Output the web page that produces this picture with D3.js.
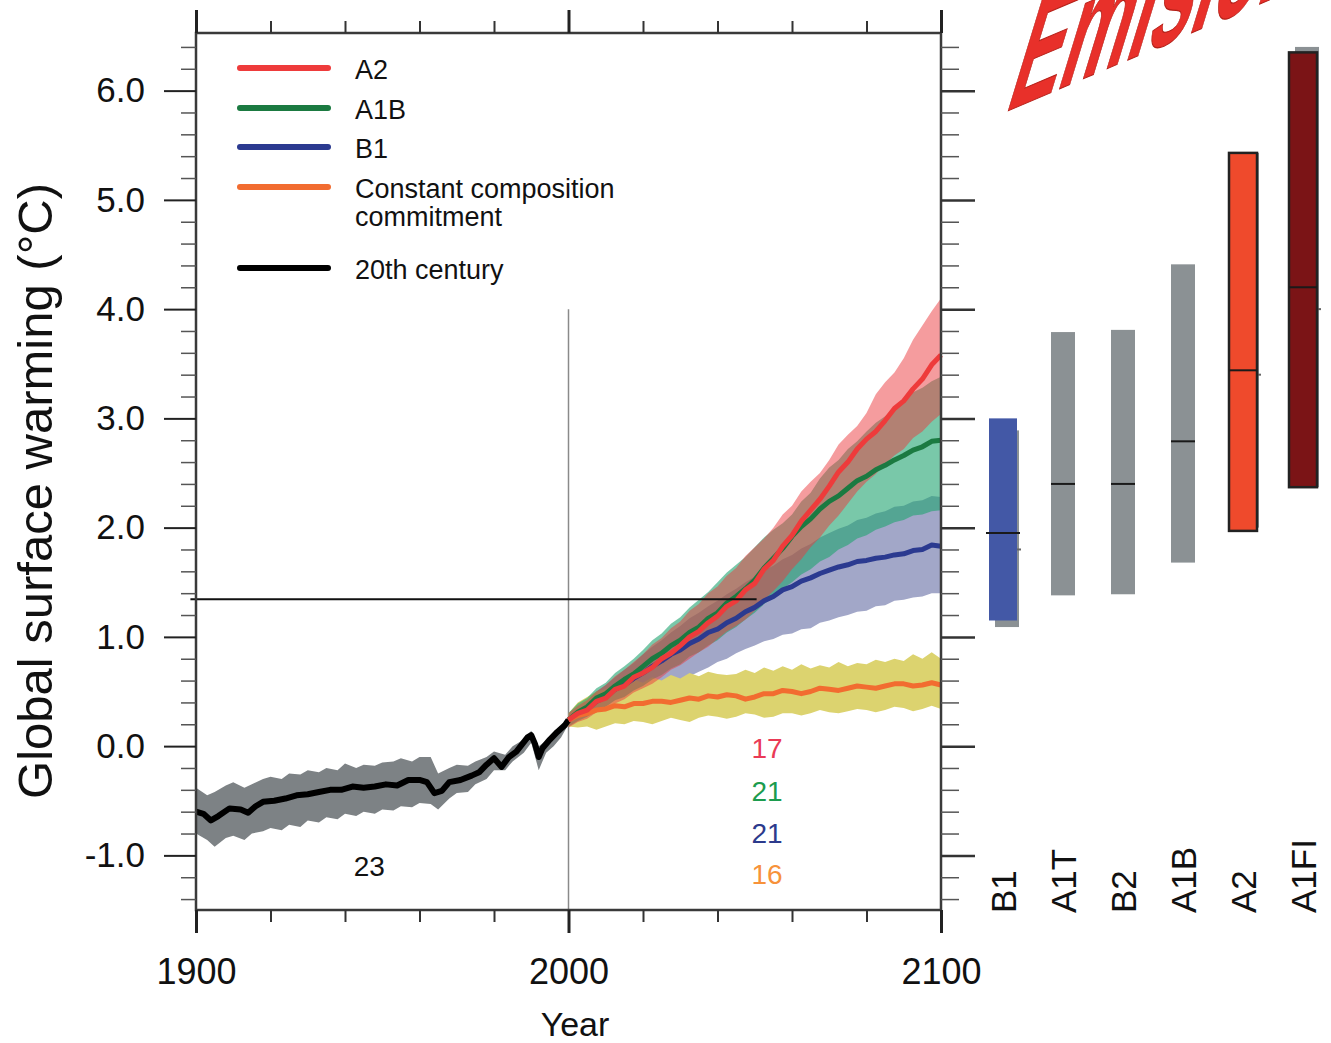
<!DOCTYPE html>
<html>
<head>
<meta charset="utf-8">
<script src="https://cdnjs.cloudflare.com/ajax/libs/d3/7.8.5/d3.min.js"></script>
<style>
  html, body { margin: 0; padding: 0; background: #fff; }
  svg { display: block; font-family: 'Liberation Sans', Arial, Helvetica, sans-serif; }
</style>
</head>
<body>
<div id="chart-container"></div>
<script>
(function () {
    'use strict';

    var width = 1331;
    var height = 1043;

    // 20th century simulation (mean + spread)
    var histYears = [1900, 1902, 1904, 1906, 1909, 1912, 1914, 1916, 1918, 1921, 1924, 1927, 1930, 1933,
        1936, 1939, 1942, 1945, 1948, 1951, 1954, 1957, 1960, 1962, 1964, 1966, 1968, 1971, 1974,
        1976, 1978, 1980, 1982, 1984, 1986, 1989, 1990, 1991, 1992, 1993, 1995, 1997, 1999, 2000];
    var histMean = [-0.60, -0.62, -0.68, -0.64, -0.57, -0.58, -0.61, -0.55, -0.51, -0.50, -0.48, -0.45, -0.44, -0.42,
        -0.40, -0.40, -0.37, -0.38, -0.37, -0.35, -0.36, -0.31, -0.31, -0.33, -0.43, -0.41, -0.33, -0.31, -0.27,
        -0.24, -0.17, -0.11, -0.19, -0.10, -0.05, 0.08, 0.10, 0.02, -0.10, -0.02, 0.06, 0.13, 0.19, 0.24];
    var histBandYears = [1900, 1903, 1905, 1908, 1910, 1913, 1915, 1918, 1920, 1923, 1925, 1928, 1930, 1933,
        1935, 1938, 1940, 1943, 1945, 1948, 1950, 1953, 1955, 1958, 1960, 1963, 1965, 1968, 1970, 1973,
        1975, 1978, 1980, 1983, 1985, 1988, 1990, 1992, 1994, 1996, 1998, 2000];
    var histUpper = [-0.38, -0.45, -0.42, -0.36, -0.33, -0.38, -0.35, -0.30, -0.28, -0.30, -0.25, -0.26, -0.22, -0.24,
        -0.20, -0.22, -0.16, -0.20, -0.17, -0.18, -0.15, -0.14, -0.11, -0.14, -0.10, -0.10, -0.25, -0.20, -0.17, -0.18,
        -0.14, -0.10, -0.05, -0.08, 0.00, 0.06, 0.14, 0.00, 0.05, 0.10, 0.18, 0.27];
    var histLower = [-0.80, -0.86, -0.92, -0.84, -0.82, -0.86, -0.80, -0.78, -0.75, -0.77, -0.72, -0.74, -0.68, -0.70,
        -0.65, -0.67, -0.62, -0.64, -0.60, -0.62, -0.58, -0.59, -0.55, -0.56, -0.52, -0.53, -0.58, -0.48, -0.43, -0.42,
        -0.35, -0.30, -0.22, -0.22, -0.14, -0.06, 0.03, -0.22, -0.06, 0.00, 0.08, 0.20];

    // 21st century projections, every 2.5 years
    var scenYears = [2000, 2002.5, 2005, 2007.5, 2010, 2012.5, 2015, 2017.5, 2020, 2022.5, 2025, 2027.5,
        2030, 2032.5, 2035, 2037.5, 2040, 2042.5, 2045, 2047.5, 2050, 2052.5, 2055, 2057.5, 2060, 2062.5,
        2065, 2067.5, 2070, 2072.5, 2075, 2077.5, 2080, 2082.5, 2085, 2087.5, 2090, 2092.5, 2095, 2097.5, 2100];
    var a2Mean = [0.24, 0.30, 0.33, 0.41, 0.44, 0.52, 0.55, 0.63, 0.67, 0.72, 0.80, 0.85, 0.92, 1.00, 1.05, 1.13, 1.19,
        1.28, 1.33, 1.43, 1.49, 1.62, 1.70, 1.83, 1.93, 2.06, 2.16, 2.26, 2.38, 2.51, 2.60, 2.72, 2.81, 2.88,
        2.98, 3.09, 3.16, 3.27, 3.36, 3.49, 3.58];
    var a2Upper = [0.30, 0.37, 0.42, 0.50, 0.56, 0.64, 0.70, 0.77, 0.84, 0.93, 0.99, 1.08, 1.14, 1.24, 1.30, 1.40, 1.46,
        1.56, 1.63, 1.74, 1.82, 1.90, 2.00, 2.12, 2.20, 2.33, 2.42, 2.50, 2.62, 2.76, 2.85, 2.93, 3.05, 3.22,
        3.33, 3.42, 3.55, 3.72, 3.85, 3.98, 4.10];
    var a2Lower = [0.17, 0.22, 0.25, 0.31, 0.34, 0.39, 0.43, 0.49, 0.53, 0.57, 0.63, 0.70, 0.74, 0.80, 0.86, 0.91, 0.98,
        1.05, 1.10, 1.16, 1.24, 1.34, 1.42, 1.51, 1.62, 1.71, 1.82, 1.91, 2.02, 2.11, 2.22, 2.33, 2.42, 2.49,
        2.58, 2.66, 2.72, 2.82, 2.88, 2.97, 3.04];
    var a1bMean = [0.24, 0.31, 0.36, 0.44, 0.48, 0.55, 0.61, 0.66, 0.73, 0.80, 0.85, 0.92, 0.97, 1.04, 1.09, 1.17, 1.22,
        1.31, 1.37, 1.44, 1.52, 1.63, 1.72, 1.81, 1.92, 2.01, 2.08, 2.17, 2.24, 2.29, 2.36, 2.43, 2.47, 2.53,
        2.57, 2.62, 2.66, 2.71, 2.74, 2.79, 2.80];
    var a1bUpper = [0.30, 0.39, 0.44, 0.53, 0.58, 0.67, 0.73, 0.80, 0.88, 0.97, 1.03, 1.12, 1.18, 1.27, 1.34, 1.41, 1.50,
        1.59, 1.66, 1.73, 1.82, 1.91, 1.98, 2.04, 2.12, 2.24, 2.32, 2.45, 2.55, 2.62, 2.72, 2.79, 2.88, 2.96,
        3.02, 3.10, 3.15, 3.24, 3.28, 3.34, 3.38];
    var a1bLower = [0.18, 0.23, 0.27, 0.32, 0.36, 0.42, 0.45, 0.51, 0.55, 0.61, 0.65, 0.71, 0.75, 0.82, 0.86, 0.92, 0.97,
        1.04, 1.09, 1.16, 1.22, 1.30, 1.36, 1.44, 1.50, 1.57, 1.62, 1.69, 1.73, 1.80, 1.84, 1.90, 1.93, 1.98,
        2.01, 2.05, 2.07, 2.11, 2.12, 2.15, 2.16];
    var b1Mean = [0.24, 0.30, 0.34, 0.41, 0.45, 0.52, 0.56, 0.62, 0.67, 0.73, 0.78, 0.84, 0.88, 0.94, 0.98, 1.04, 1.07,
        1.13, 1.17, 1.23, 1.27, 1.33, 1.37, 1.43, 1.46, 1.51, 1.54, 1.58, 1.61, 1.64, 1.66, 1.69, 1.70, 1.72,
        1.73, 1.75, 1.76, 1.79, 1.80, 1.84, 1.83];
    var b1Upper = [0.30, 0.37, 0.42, 0.50, 0.56, 0.63, 0.70, 0.76, 0.84, 0.91, 0.97, 1.04, 1.10, 1.17, 1.22, 1.28, 1.33,
        1.39, 1.44, 1.50, 1.55, 1.61, 1.65, 1.71, 1.75, 1.81, 1.85, 1.91, 1.95, 1.99, 2.02, 2.07, 2.09, 2.13,
        2.15, 2.19, 2.20, 2.24, 2.25, 2.29, 2.28];
    var b1Lower = [0.18, 0.21, 0.26, 0.29, 0.34, 0.36, 0.41, 0.43, 0.47, 0.49, 0.53, 0.56, 0.60, 0.64, 0.68, 0.72, 0.77,
        0.80, 0.85, 0.89, 0.92, 0.96, 0.98, 1.02, 1.03, 1.07, 1.08, 1.13, 1.15, 1.18, 1.20, 1.23, 1.24, 1.28,
        1.29, 1.33, 1.34, 1.36, 1.37, 1.40, 1.40];
    var commitMean = [0.24, 0.28, 0.30, 0.33, 0.34, 0.37, 0.36, 0.39, 0.39, 0.41, 0.41, 0.40, 0.42, 0.44, 0.43, 0.46, 0.45,
        0.47, 0.46, 0.43, 0.45, 0.48, 0.48, 0.51, 0.50, 0.48, 0.50, 0.53, 0.52, 0.51, 0.53, 0.55, 0.54, 0.53,
        0.55, 0.57, 0.57, 0.55, 0.56, 0.58, 0.56];
    var commitUpper = [0.30, 0.40, 0.45, 0.50, 0.52, 0.57, 0.56, 0.61, 0.58, 0.63, 0.60, 0.65, 0.62, 0.67, 0.64, 0.68, 0.66,
        0.65, 0.66, 0.70, 0.67, 0.72, 0.69, 0.73, 0.70, 0.75, 0.71, 0.74, 0.72, 0.77, 0.73, 0.76, 0.75, 0.79,
        0.77, 0.80, 0.78, 0.84, 0.80, 0.86, 0.80];
    var commitLower = [0.18, 0.17, 0.18, 0.15, 0.18, 0.21, 0.20, 0.23, 0.22, 0.20, 0.23, 0.26, 0.24, 0.22, 0.26, 0.28, 0.27,
        0.25, 0.27, 0.30, 0.29, 0.26, 0.27, 0.30, 0.30, 0.28, 0.30, 0.33, 0.31, 0.30, 0.32, 0.34, 0.33, 0.31,
        0.33, 0.36, 0.35, 0.32, 0.34, 0.37, 0.34];

    // legend and model counts
    var legendLabels = [['A2'], ['A1B'], ['B1'], ['Constant composition', 'commitment'], ['20th century']];
    var histCount = '23';
    var scenCounts = ['17', '21', '21', '16'];

    // likely ranges at 2090-2099 per scenario (right panel)
    var barCategories = ['B1', 'A1T', 'B2', 'A1B', 'A2', 'A1FI'];
    var barLow = [1.15, 1.38, 1.39, 1.68, 1.97, 2.37];
    var barHigh = [3.00, 3.79, 3.81, 4.41, 5.43, 6.35];
    var barBest = [1.95, 2.40, 2.40, 2.79, 3.44, 4.20];
    var shadowCategories = ['B1', 'A2', 'A1FI'];
    var shadowLow = [1.09, 2.00, 2.37];
    var shadowHigh = [2.89, 5.43, 6.40];
    var shadowBest = [1.80, 3.40, 4.00];

    var yMajorTicks = [-1, 0, 1, 2, 3, 4, 5, 6];
    var xMajorTicks = [1900, 2000, 2100];
    var xMinorTicks = [1920, 1940, 1960, 1980, 2020, 2040, 2060, 2080];

    var svg = d3.select('#chart-container')
        .append('svg')
        .attr('width', width)
        .attr('height', height);

    var x = d3.scaleLinear().domain([1900, 2100]).range([196, 941]);
    var y = d3.scaleLinear().domain([-1.5, 6.5]).range([910, 36]);
    var yMinorTicks = d3.range(-14, 66, 2).map(function (v) { return v / 10; })
        .filter(function (v) { return Math.abs(v - Math.round(v)) > 1e-6; });

    var plotTop = 33;

    // reference lines
    svg.append('line')
        .attr('x1', x(2000)).attr('x2', x(2000))
        .attr('y1', y(4)).attr('y2', y(-1.5))
        .attr('stroke', '#8a8a8a').attr('stroke-width', 1.5);

    function band(years, lo, hi) {
        return d3.area()
            .x(function (d, i) { return x(years[i]); })
            .y0(function (d, i) { return y(lo[i]); })
            .y1(function (d, i) { return y(hi[i]); })(years);
    }
    function line(years, vals) {
        return d3.line()
            .x(function (d, i) { return x(years[i]); })
            .y(function (d, i) { return y(vals[i]); })(years);
    }

    var bands = svg.append('g').attr('class', 'bands');
    bands.append('path').attr('d', band(histBandYears, histLower, histUpper)).attr('fill', '#7d8285');
    bands.append('path').attr('d', band(scenYears, b1Lower, b1Upper)).attr('fill', '#a2a7c8');
    bands.append('path').attr('d', band(scenYears, commitLower, commitUpper)).attr('fill', '#dcd36f');
    bands.append('path').attr('d', band(scenYears, a1bLower, a1bUpper)).attr('fill', 'rgb(32,164,112)').attr('fill-opacity', 0.6);
    bands.append('path').attr('d', band(scenYears, a2Lower, a2Upper)).attr('fill', 'rgb(236,58,62)').attr('fill-opacity', 0.5);

    var lines = svg.append('g').attr('class', 'lines')
        .attr('fill', 'none').attr('stroke-width', 5).attr('stroke-linejoin', 'round');
    lines.append('path').attr('d', line(histYears, histMean)).attr('stroke', '#000').attr('stroke-width', 6);
    lines.append('path').attr('d', line(scenYears, b1Mean)).attr('stroke', '#2b3a90');
    lines.append('path').attr('d', line(scenYears, a1bMean)).attr('stroke', '#1b7a41');
    lines.append('path').attr('d', line(scenYears, commitMean)).attr('stroke', '#f26c30');
    lines.append('path').attr('d', line(scenYears, a2Mean)).attr('stroke', '#ee3b3b');

    // horizontal marker line
    svg.append('line')
        .attr('x1', x(1898.5)).attr('x2', x(2050.5))
        .attr('y1', y(1.345)).attr('y2', y(1.345))
        .attr('stroke', '#111').attr('stroke-width', 2);

    // frame and axes
    svg.append('rect')
        .attr('x', x(1900)).attr('y', plotTop)
        .attr('width', x(2100) - x(1900)).attr('height', y(-1.5) - plotTop)
        .attr('fill', 'none').attr('stroke', '#3a3a3a').attr('stroke-width', 2.5);

    function tidy(w, c) {
        return function (g) {
            g.select('.domain').remove();
            g.selectAll('.tick line').attr('stroke', c).attr('stroke-width', w);
        };
    }

    svg.append('g').attr('transform', 'translate(' + x(1900) + ',0)')
        .call(d3.axisLeft(y).tickValues(yMinorTicks).tickSize(15).tickFormat(''))
        .call(tidy(1.5, '#555'));
    svg.append('g').attr('transform', 'translate(' + x(1900) + ',0)')
        .call(d3.axisLeft(y).tickValues(yMajorTicks).tickSize(32).tickPadding(19)
            .tickFormat(function (d) { return d.toFixed(1); }))
        .call(tidy(2, '#222'))
        .selectAll('text')
        .attr('font-size', 35).attr('fill', '#111').attr('font-family', null);
    svg.append('g').attr('transform', 'translate(' + x(2100) + ',0)')
        .call(d3.axisRight(y).tickValues(yMinorTicks).tickSize(18).tickFormat(''))
        .call(tidy(1.5, '#555'));
    svg.append('g').attr('transform', 'translate(' + x(2100) + ',0)')
        .call(d3.axisRight(y).tickValues(yMajorTicks).tickSize(34).tickFormat(''))
        .call(tidy(2.5, '#333'));

    svg.append('g').attr('transform', 'translate(0,' + plotTop + ')')
        .call(d3.axisTop(x).tickValues(xMinorTicks).tickSize(12).tickFormat(''))
        .call(tidy(2, '#333'));
    svg.append('g').attr('transform', 'translate(0,' + plotTop + ')')
        .call(d3.axisTop(x).tickValues(xMajorTicks).tickSize(23).tickFormat(''))
        .call(tidy(3, '#222'));
    svg.append('g').attr('transform', 'translate(0,' + y(-1.5) + ')')
        .call(d3.axisBottom(x).tickValues(xMinorTicks).tickSize(12).tickFormat(''))
        .call(tidy(2, '#333'));
    svg.append('g').attr('transform', 'translate(0,' + y(-1.5) + ')')
        .call(d3.axisBottom(x).tickValues(xMajorTicks).tickSize(23).tickPadding(25).tickFormat(d3.format('d')))
        .call(tidy(3, '#222'))
        .selectAll('text')
        .attr('font-size', 36).attr('fill', '#111').attr('font-family', null);

    svg.append('text')
        .attr('transform', 'translate(52,491) rotate(-90)')
        .attr('text-anchor', 'middle')
        .attr('font-size', 49)
        .attr('fill', '#111')
        .text('Global surface warming (°C)');
    svg.append('text')
        .attr('x', 575).attr('y', 1036)
        .attr('text-anchor', 'middle')
        .attr('font-size', 34)
        .attr('fill', '#111')
        .text('Year');

    // legend
    var legendColors = ['#ee3b3b', '#1b7a41', '#2b3a90', '#f26c30', '#000'];
    var legendY = [68, 108, 147, 187, 268];
    var legend = svg.append('g').attr('class', 'legend');
    legendLabels.forEach(function (lab, i) {
        legend.append('line')
            .attr('x1', 240).attr('x2', 328)
            .attr('y1', legendY[i]).attr('y2', legendY[i])
            .attr('stroke', legendColors[i]).attr('stroke-width', 6)
            .attr('stroke-linecap', 'round');
        lab.forEach(function (t, j) {
            legend.append('text')
                .attr('x', 355).attr('y', legendY[i] + 2 + j * 28)
                .attr('dy', '0.35em')
                .attr('font-size', 27)
                .attr('fill', '#111')
                .text(t);
        });
    });

    // model counts
    svg.append('text')
        .attr('x', x(1946.5)).attr('y', y(-1.1))
        .attr('dy', '0.35em').attr('text-anchor', 'middle')
        .attr('font-size', 28).attr('fill', '#111')
        .text(histCount);
    var countColors = ['#ea3a56', '#1c9c4e', '#2c3a8c', '#f7923a'];
    var countLevels = [-0.02, -0.41, -0.80, -1.17];
    scenCounts.forEach(function (t, i) {
        svg.append('text')
            .attr('x', x(2053.3)).attr('y', y(countLevels[i]))
            .attr('dy', '0.35em').attr('text-anchor', 'middle')
            .attr('font-size', 28).attr('fill', countColors[i])
            .text(t);
    });

    // right panel: likely ranges
    var xb = d3.scalePoint().domain(barCategories).range([1003, 1303]);
    var barFill = { B1: '#4358a6', A1T: '#8b9194', B2: '#8b9194', A1B: '#8b9194', A2: '#ef4a2c', A1FI: '#7b1416' };
    var barStroke = { A2: '#222', A1FI: '#222' };
    var bars = svg.append('g').attr('class', 'bars');

    shadowCategories.forEach(function (c, i) {
        var cx = xb(c) + 4;
        bars.append('rect')
            .attr('x', cx - 12).attr('width', 24)
            .attr('y', y(shadowHigh[i])).attr('height', y(shadowLow[i]) - y(shadowHigh[i]))
            .attr('fill', '#8b9194');
        bars.append('line')
            .attr('x1', cx).attr('x2', cx + 14)
            .attr('y1', y(shadowBest[i])).attr('y2', y(shadowBest[i]))
            .attr('stroke', '#666').attr('stroke-width', 2);
    });

    barCategories.forEach(function (c, i) {
        var w = barFill[c] === '#8b9194' ? 24 : 28;
        var cx = xb(c);
        bars.append('rect')
            .attr('x', cx - w / 2).attr('width', w)
            .attr('y', y(barHigh[i])).attr('height', y(barLow[i]) - y(barHigh[i]))
            .attr('fill', barFill[c])
            .attr('stroke', barStroke[c] || 'none')
            .attr('stroke-width', 2.5);
        var ext = c === 'B1' ? 3 : 0;
        bars.append('line')
            .attr('x1', cx - w / 2 - ext).attr('x2', cx + w / 2 + ext)
            .attr('y1', y(barBest[i])).attr('y2', y(barBest[i]))
            .attr('stroke', '#1a1a1a').attr('stroke-width', 2);
        bars.append('text')
            .attr('transform', 'translate(' + (cx + 13) + ',913) rotate(-90)')
            .attr('font-size', 35).attr('fill', '#111')
            .text(c);
    });

    // slanted title, cut by the top edge as in the source figure
    svg.append('text')
        .attr('transform', 'translate(1003,113) rotate(-23) skewX(-40) scale(0.64,1)')
        .attr('font-size', 130).attr('font-weight', 'bold')
        .attr('fill', '#e8302a').attr('stroke', '#b52018').attr('stroke-width', 1)
        .text('Emisiones');
}());
</script>
</body>
</html>
